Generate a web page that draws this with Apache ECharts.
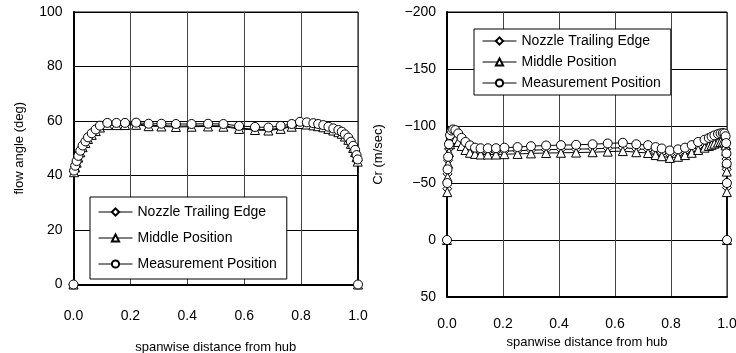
<!DOCTYPE html>
<html>
<head>
<meta charset="utf-8">
<script src="https://cdn.jsdelivr.net/npm/echarts@6/dist/echarts.min.js"></script>
<style>
  html, body { margin: 0; padding: 0; background: #fff; }
  #chart { width: 736px; height: 353px; }
</style>
</head>
<body>
<div id="chart"></div>
<script>
// left panel: flow angle
var xLeft = [0, 0.002, 0.006, 0.011, 0.017, 0.024, 0.032, 0.042, 0.051, 0.064, 0.078, 0.093, 0.119, 0.151, 0.181, 0.22, 0.264, 0.309, 0.36, 0.415, 0.473, 0.527, 0.582, 0.638, 0.685, 0.728, 0.767, 0.796, 0.82, 0.843, 0.86, 0.878, 0.896, 0.913, 0.931, 0.943, 0.954, 0.966, 0.975, 0.983, 0.99, 0.995, 0.999, 1.0]
var angleNozzle = [0, 41.5, 43.2, 45.0, 46.9, 48.8, 50.7, 52.2, 53.7, 55.2, 56.6, 57.9, 58.8, 58.8, 58.8, 58.9, 58.4, 58.3, 58.1, 58.2, 58.3, 58.2, 57.4, 57.0, 56.8, 57.4, 58.2, 59.2, 59.0, 58.7, 58.4, 58.0, 57.4, 56.8, 56.2, 55.6, 54.6, 53.4, 51.9, 50.4, 48.9, 47.0, 45.4, 0]
var angleMiddle = [0, 41.2, 43.0, 44.7, 46.6, 48.5, 50.4, 51.9, 53.4, 54.9, 56.3, 57.6, 58.5, 58.5, 58.5, 58.6, 58.1, 58.0, 57.8, 57.9, 58.0, 57.9, 57.1, 56.7, 56.5, 57.1, 57.9, 58.9, 58.7, 58.4, 58.1, 57.7, 57.1, 56.5, 55.9, 55.3, 54.3, 53.1, 51.6, 50.1, 48.6, 46.7, 45.1, 0]
var angleMeasure = [0, 41.8, 43.6, 45.3, 47.2, 49.1, 51.0, 52.5, 54.0, 55.5, 56.9, 58.3, 59.3, 59.3, 59.3, 59.4, 59.0, 59.0, 58.9, 58.9, 59.0, 58.9, 58.2, 57.8, 57.6, 58.2, 58.9, 59.7, 59.5, 59.2, 58.9, 58.5, 57.9, 57.3, 56.7, 56.1, 55.1, 53.9, 52.4, 50.9, 49.4, 47.5, 45.9, 0]

// right panel: Cr
var xRight = [0, 0.001, 0.002, 0.004, 0.007, 0.011, 0.016, 0.022, 0.03, 0.04, 0.052, 0.066, 0.082, 0.1, 0.12, 0.146, 0.175, 0.205, 0.252, 0.3, 0.354, 0.407, 0.461, 0.52, 0.574, 0.628, 0.676, 0.718, 0.745, 0.767, 0.796, 0.825, 0.85, 0.874, 0.897, 0.92, 0.935, 0.945, 0.955, 0.968, 0.977, 0.985, 0.991, 0.995, 0.997, 0.998, 0.999, 0.9995, 1.0]
var crNozzle = [0, -45, -58, -70, -80, -87, -91, -92, -91.5, -89, -85.5, -82, -79.5, -78, -77.5, -77.5, -77.5, -78, -78.3, -78.8, -79.2, -79.5, -79.7, -80, -80.5, -81, -80, -79.3, -77.5, -76.5, -75, -76, -77.5, -79.5, -82, -84, -85.5, -86.5, -87.5, -88.5, -89, -89.2, -88.5, -86, -80, -71, -62, -46, 0]
var crMiddle = [0, -42, -55, -67, -77, -84, -88, -89, -88.5, -86, -82.5, -79, -76.5, -75.5, -75, -75, -75, -75.3, -75.5, -76, -76.3, -76.5, -76.7, -77, -77.5, -78, -77, -76.3, -74.5, -73.5, -72, -73, -74.5, -76.5, -79, -81, -82.5, -83.5, -84.5, -85.5, -86, -86.2, -85.5, -83, -78, -68, -60, -42, 0]
var crMeasure = [0, -50, -62, -73, -84, -92, -96, -97, -96.4, -93.5, -89.6, -86, -83, -81, -80.5, -80.5, -80.5, -81, -81.5, -82.3, -82.9, -83.2, -83.5, -84, -84.7, -85.3, -84, -83.2, -81.5, -80.3, -78.5, -79.5, -81, -83.2, -86, -88, -89.5, -90.6, -91.8, -93, -93.6, -93.8, -93.5, -91, -85, -76, -67, -50, 0]

var names = ['Nozzle Trailing Edge', 'Middle Position', 'Measurement Position']
var symbols = ['diamond', 'triangle', 'circle']
var font = '"Liberation Sans", Arial, sans-serif'

function pairs(xs, ys) {
  return xs.map(function(x, i) { return [x, ys[i]] })
}

function makeSeries(name, symbol, idx, data) {
  return {
    name: name,
    type: 'line',
    xAxisIndex: idx,
    yAxisIndex: idx,
    data: data,
    symbol: symbol,
    symbolSize: 9,
    showAllSymbol: true,
    animation: false,
    lineStyle: { color: '#000', width: 1 },
    itemStyle: { color: '#fff', borderColor: '#000', borderWidth: 1 }
  }
}

function xAxisCfg(idx, margin, nameGap) {
  return {
    type: 'value',
    gridIndex: idx,
    min: 0,
    max: 1,
    interval: 0.2,
    name: 'spanwise distance from hub',
    nameLocation: 'middle',
    nameGap: nameGap,
    nameTextStyle: { color: '#000', fontSize: 13, fontFamily: font },
    axisLine: { onZero: false, lineStyle: { color: '#000', width: 2 } },
    axisTick: { show: false },
    axisLabel: {
      color: '#000', fontSize: 14, fontFamily: font, margin: margin,
      formatter: function(v) { return v.toFixed(1) }
    },
    splitLine: { show: true, lineStyle: { color: '#444', width: 1 } }
  }
}

function legendCfg(left, top, gap, padding) {
  return {
    data: names,
    orient: 'vertical',
    left: left,
    top: top,
    itemGap: gap,
    itemWidth: 34,
    itemHeight: 9,
    padding: padding,
    backgroundColor: '#fff',
    borderColor: '#000',
    borderWidth: 1,
    lineStyle: { width: 1, color: '#000' },
    textStyle: { color: '#000', fontSize: 14, fontFamily: font }
  }
}

var chart = echarts.init(document.getElementById('chart'))
chart.setOption({
  backgroundColor: '#fff',
  animation: false,
  legend: [
    legendCfg(90, 197, 12, [8, 10, 8, 8]),
    legendCfg(474, 29, 7, [5, 10, 5, 8])
  ],
  grid: [
    { left: 73.5, right: 378, top: 12, bottom: 68.5, show: true, borderColor: '#000', borderWidth: 1, outerBoundsMode: 'none' },
    { left: 447, right: 9, top: 12, bottom: 56, show: true, borderColor: '#000', borderWidth: 1, outerBoundsMode: 'none' }
  ],
  xAxis: [xAxisCfg(0, 25, 56), xAxisCfg(1, 20, 29)],
  yAxis: [
    {
      type: 'value',
      gridIndex: 0,
      min: 0,
      max: 100,
      interval: 20,
      name: 'flow angle (deg)',
      nameLocation: 'middle',
      nameGap: 48,
      nameTextStyle: { color: '#000', fontSize: 13, fontFamily: font },
      axisLine: { show: true, onZero: false, lineStyle: { color: '#000', width: 2 } },
      axisTick: { show: false },
      axisLabel: { color: '#000', fontSize: 14, fontFamily: font, margin: 11 },
      splitLine: { show: true, lineStyle: { color: '#000', width: 1 } }
    },
    {
      type: 'value',
      gridIndex: 1,
      min: -200,
      max: 50,
      interval: 50,
      inverse: true,
      name: 'Cr (m/sec)',
      nameLocation: 'middle',
      nameGap: 62,
      nameTextStyle: { color: '#000', fontSize: 13, fontFamily: font },
      axisLine: { show: true, onZero: false, lineStyle: { color: '#000', width: 2 } },
      axisTick: { show: false },
      axisLabel: {
        color: '#000', fontSize: 14, fontFamily: font, margin: 11,
        formatter: function(v) { return String(v).replace('-', '\u2212') }
      },
      splitLine: { show: true, lineStyle: { color: '#000', width: 1 } }
    }
  ],
  series: [
    makeSeries(names[0], symbols[0], 0, pairs(xLeft, angleNozzle)),
    makeSeries(names[1], symbols[1], 0, pairs(xLeft, angleMiddle)),
    makeSeries(names[2], symbols[2], 0, pairs(xLeft, angleMeasure)),
    makeSeries(names[0], symbols[0], 1, pairs(xRight, crNozzle)),
    makeSeries(names[1], symbols[1], 1, pairs(xRight, crMiddle)),
    makeSeries(names[2], symbols[2], 1, pairs(xRight, crMeasure))
  ]
})
</script>
</body>
</html>
